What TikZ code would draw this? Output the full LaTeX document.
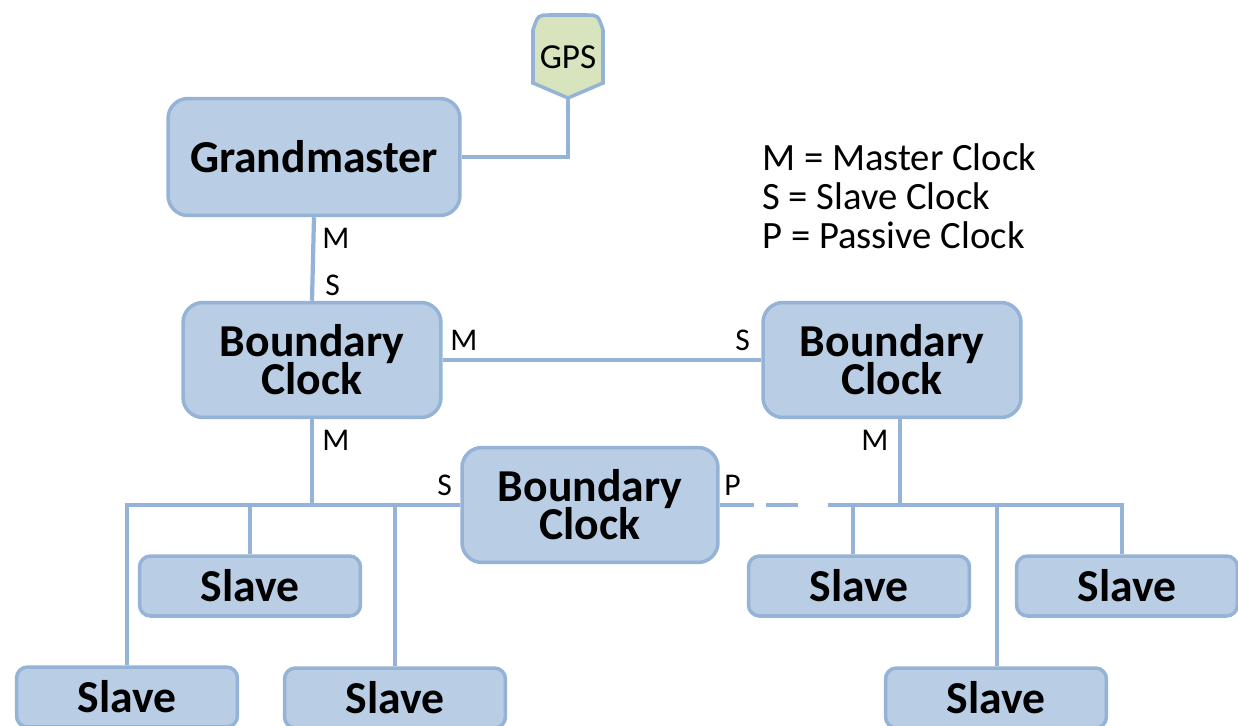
\documentclass[tikz,border=0pt]{standalone}
\usepackage{fontspec}
\setmainfont{Carlito}

\definecolor{ccboxfill}{RGB}{185,205,229}
\definecolor{ccline}{RGB}{149,179,215}
\definecolor{ccgps}{RGB}{215,228,189}

\newcommand{\clockfont}{\fontsize{26}{21.6}\selectfont\bfseries\lineskiplimit-20pt\relax}

\begin{document}
\begin{tikzpicture}[x=0.02cm, y=-0.02cm,
  clockbox/.style={draw=ccline, fill=ccboxfill, line width=2pt, rounded corners=0.4cm,
    align=center, inner sep=0pt, font=\clockfont},
  slavebox/.style={clockbox, rounded corners=0.22cm, minimum width=4.42cm, minimum height=1.2cm},
  link/.style={color=ccline, line width=2.4pt},
  port/.style={font=\fontsize{18}{18}\selectfont, inner sep=0pt, anchor=west}]

  % Bounding box of the scheme
  \useasboundingbox (0,0) rectangle (1238,726);

  %%%%%%%%%%%%%%%%%%%%%%%%%%%%%%%%% Clocks %%%%%%%%%%%%%%%%%%%%%%%%%%%%%%%%%%%%

  % GPS receiver
  \draw[ccline, fill=ccgps, line width=2pt] (533,83) -- (533,30) .. controls (538,15) .. (550,15)
    -- (586,15) .. controls (598,15) .. (603,30) -- (603,83) -- (568,98) -- cycle;
  \draw (568,57) node[font=\fontsize{20}{20}\selectfont, inner sep=0pt] (gps) {GPS} ;
  \coordinate (gpstip) at (568,98) ;

  % Grandmaster and boundary clocks
  \draw (314,157) node[clockbox, minimum width=5.84cm, minimum height=2.34cm] (gm) {Grandmaster} ;
  \draw (312,360) node[clockbox, minimum width=5.16cm, minimum height=2.3cm] (bc1) {Boundary\\Clock} ;
  \draw (892,360) node[clockbox, minimum width=5.16cm, minimum height=2.3cm] (bc2) {Boundary\\Clock} ;
  \draw (590,505) node[clockbox, minimum width=5.12cm, minimum height=2.3cm] (bc3) {Boundary\\Clock} ;

  % Slaves
  \draw (250,586) node[slavebox] (sl1) {Slave} ;
  \draw (127,697) node[slavebox] (sl2) {Slave} ;
  \draw (395,698) node[slavebox] (sl3) {Slave} ;
  \draw (859,586) node[slavebox] (sr1) {Slave} ;
  \draw (1127,586) node[slavebox] (sr2) {Slave} ;
  \draw (996,698) node[slavebox] (sr3) {Slave} ;

  %%%%%%%%%%%%%%%%%%%%%%%%%%%%%%%%% Links %%%%%%%%%%%%%%%%%%%%%%%%%%%%%%%%%%%%

  \coordinate (passend) at (828,505) ;
  \coordinate (tapR) at (900,505) ;
  \coordinate (tapR1) at (853,505) ;
  \coordinate (tapR3) at (997,505) ;
  \coordinate (busR) at (1122,505) ;

  \draw[link] (gm.east) -| (gpstip) ;
  \draw[link] (gm.south) -- (bc1.north) ;
  \draw[link] (bc1.east) -- (bc2.west) ;

  % Left segment
  \draw[link] (sl2.north) |- (bc3.west) ;
  \draw[link] (bc1.south) -- (bc1.south |- bc3.west) ;
  \draw[link] (sl1.north) -- (sl1.north |- bc3.west) ;
  \draw[link] (sl3.north) -- (sl3.north |- bc3.west) ;

  % Right segment
  \draw[link, dash pattern=on 0.68cm off 0.24cm on 0.64cm off 0.64cm] (bc3.east) -- (passend) ;
  \draw[link] (passend) -- (busR) -- (busR |- sr2.north) ;
  \draw[link] (tapR |- bc2.south) -- (tapR) ;
  \draw[link] (tapR1) -- (tapR1 |- sr1.north) ;
  \draw[link] (tapR3) -- (tapR3 |- sr3.north) ;

  %%%%%%%%%%%%%%%%%%%%%%%%%%%%%%%%% Port states %%%%%%%%%%%%%%%%%%%%%%%%%%%%%%%%%%%%

  \draw (322,238) node[port] (pgm) {M} ;
  \draw (325,285) node[port] (pbc1a) {S} ;
  \draw (450,340) node[port] (pbc1b) {M} ;
  \draw (735,340) node[port] (pbc2a) {S} ;
  \draw (322,440) node[port] (pbc1c) {M} ;
  \draw (437,485) node[port] (pbc3a) {S} ;
  \draw (724,485) node[port] (pbc3b) {P} ;
  \draw (861,440) node[port] (pbc2b) {M} ;

  % Legend
  \draw (762,196) node[anchor=west, align=left, inner sep=0pt, font=\fontsize{22}{22.1}\selectfont] (legend)
    {M = Master Clock\\S = Slave Clock\\P = Passive Clock} ;

\end{tikzpicture}
\end{document}
